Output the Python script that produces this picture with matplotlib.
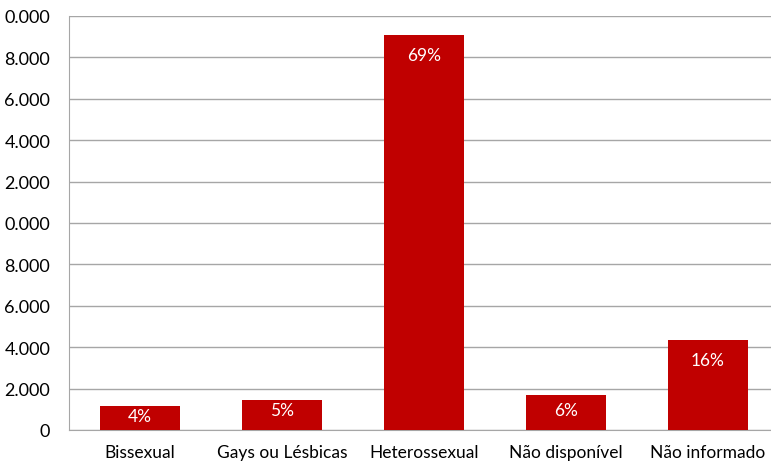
import matplotlib.pyplot as plt

plt.rcParams['font.family'] = ['Lato', 'DejaVu Sans']

categorias = ['Bissexual', 'Gays ou Lésbicas', 'Heterossexual', 'Não disponível', 'Não informado']
valores = [1160, 1450, 19060, 1700, 4350]
rotulos = ['4%', '5%', '69%', '6%', '16%']
yticks = [0, 2000, 4000, 6000, 8000, 10000, 12000, 14000, 16000, 18000, 20000]
ytick_labels = ['0', '2.000', '4.000', '6.000', '8.000', '0.000',
                '2.000', '4.000', '6.000', '8.000', '0.000']

fig = plt.figure(figsize=(7.71, 4.64), dpi=100)
ax = fig.add_axes([69/771, 33/464, 710/771, 414/464])

x = range(len(categorias))
barras = ax.bar(x, valores, width=0.57, color='#c00000', zorder=3)

# rótulo dentro da barra; nas barras baixas fica mais perto do topo
for b, r in zip(barras, rotulos):
    v = b.get_height()
    y = max(v - 950, min(v - 480, 966))
    ax.text(b.get_x() + b.get_width()/2, y, r, ha='center', va='center',
            color='white', fontsize=12.5, zorder=4)

ax.set_xlim(-0.5, len(categorias) - 0.5)
ax.set_ylim(0, 20000)
ax.set_yticks(yticks)
ax.set_yticklabels(ytick_labels)
ax.set_xticks(list(x))
ax.set_xticklabels(categorias)

ax.grid(axis='y', color='#a6a6a6', linewidth=1, zorder=0)
for s in ['top', 'right']:
    ax.spines[s].set_visible(False)
for s in ['left', 'bottom']:
    ax.spines[s].set_color('#a6a6a6')
ax.tick_params(axis='y', length=0, pad=13.5, labelsize=13)
ax.tick_params(axis='x', length=0, pad=10, labelsize=12.5)

fig.savefig('out.png', dpi=100)
